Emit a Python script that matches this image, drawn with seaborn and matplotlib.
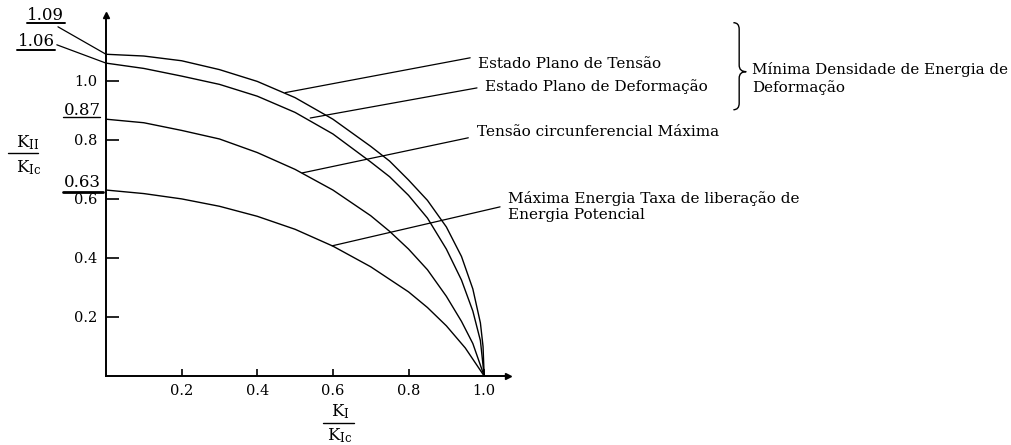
import numpy as np
import pandas as pd
import matplotlib
matplotlib.use("Agg")
import matplotlib.pyplot as plt
from matplotlib.path import Path
from matplotlib.patches import PathPatch
import seaborn as sns

# Critérios de fratura em modo misto: K_II/K_Ic em função de K_I/K_Ic
ki_tensao = [0.0, 0.1, 0.2, 0.3, 0.4, 0.5, 0.6, 0.7, 0.75, 0.8, 0.85, 0.9, 0.94, 0.97, 0.99, 0.997, 1.0]
kii_tensao = [1.09, 1.084, 1.068, 1.038, 0.998, 0.943, 0.87, 0.778, 0.728, 0.664, 0.595, 0.505, 0.405, 0.295, 0.18, 0.10, 0.0]

ki_deform = [0.0, 0.1, 0.2, 0.3, 0.4, 0.5, 0.6, 0.7, 0.75, 0.8, 0.85, 0.9, 0.94, 0.97, 0.99, 1.0]
kii_deform = [1.06, 1.042, 1.016, 0.988, 0.948, 0.893, 0.82, 0.725, 0.675, 0.612, 0.535, 0.43, 0.325, 0.22, 0.12, 0.0]

ki_circ = [0.0, 0.1, 0.2, 0.3, 0.4, 0.5, 0.6, 0.7, 0.75, 0.8, 0.85, 0.9, 0.94, 0.97, 1.0]
kii_circ = [0.87, 0.858, 0.832, 0.803, 0.757, 0.70, 0.63, 0.543, 0.49, 0.43, 0.36, 0.27, 0.185, 0.11, 0.0]

ki_energia = [0.0, 0.1, 0.2, 0.3, 0.4, 0.5, 0.6, 0.7, 0.8, 0.85, 0.9, 0.95, 1.0]
kii_energia = [0.63, 0.618, 0.600, 0.575, 0.541, 0.497, 0.440, 0.37, 0.285, 0.232, 0.17, 0.095, 0.0]

nomes = ["Estado Plano de Tensão", "Estado Plano de Deformação",
         "Tensão circunferencial Máxima",
         "Máxima Energia Taxa de liberação de\nEnergia Potencial"]
grupo_med = "Mínima Densidade de Energia de\nDeformação"
valores_k0 = [1.09, 1.06, 0.87, 0.63]
rotulos_k0 = ["1.09", "1.06", "0.87", "0.63"]
xticks = [0.2, 0.4, 0.6, 0.8, 1.0]
yticks = [0.2, 0.4, 0.6, 0.8, 1.0]

curvas = [(ki_tensao, kii_tensao), (ki_deform, kii_deform),
          (ki_circ, kii_circ), (ki_energia, kii_energia)]
df = pd.concat([pd.DataFrame({"KI": x, "KII": y, "criterio": n})
                for (x, y), n in zip(curvas, nomes)], ignore_index=True)

sns.set_style("ticks")
plt.rcParams["font.family"] = ["DejaVu Serif"]
plt.rcParams["mathtext.fontset"] = "dejavuserif"

W, H = 1011, 445
fig = plt.figure(figsize=(W / 100, H / 100), dpi=100)
x0px, x1px, y0px, y1px = 106, 508, 376, 15
ax = fig.add_axes([x0px / W, 1 - y0px / H, (x1px - x0px) / W, (y0px - y1px) / H])

sns.lineplot(data=df, x="KI", y="KII", units="criterio", estimator=None,
             sort=False, color="black", lw=1.0, ax=ax, legend=False)

ax.set_xlim(0, 1.063)
ax.set_ylim(0, 1.223)
for s in ("top", "right"):
    ax.spines[s].set_visible(False)
for s in ("left", "bottom"):
    ax.spines[s].set_linewidth(1.4)
    ax.spines[s].set_color("black")
ax.plot(1, 0, marker=">", color="k", ms=5, transform=ax.transAxes, clip_on=False)
ax.plot(0, 1, marker="^", color="k", ms=5, transform=ax.transAxes, clip_on=False)

ax.set_xticks(xticks)
ax.set_xticklabels([f"{v:.1f}" for v in xticks])
ax.set_yticks(yticks)
ax.set_yticklabels([f"{v:.1f}" for v in yticks])
ax.tick_params(axis="x", direction="in", length=5, width=1.2, pad=6, labelsize=10.5, colors="black")
ax.tick_params(axis="y", direction="in", length=9, width=1.2, pad=6, labelsize=10.5, colors="black")
ax.set_xlabel("")
ax.set_ylabel("")

txt = dict(color="black", clip_on=False)

# Rótulos dos valores em K_I = 0
v = valores_k0
ax.text(-0.159, v[0] + 0.13, rotulos_k0[0], ha="center", va="center", fontsize=12, **txt)
ax.plot([-0.209, -0.108], [v[0] + 0.107] * 2, color="k", lw=1.4, clip_on=False)
ax.plot([-0.127, 0], [v[0] + 0.093, v[0]], color="k", lw=0.9, clip_on=False)

ax.text(-0.185, v[1] + 0.072, rotulos_k0[1], ha="center", va="center", fontsize=12, **txt)
ax.plot([-0.235, -0.135], [v[1] + 0.045] * 2, color="k", lw=1.4, clip_on=False)
ax.plot([-0.130, 0], [v[1] + 0.062, v[1]], color="k", lw=0.9, clip_on=False)

ax.text(-0.063, v[2] + 0.03, rotulos_k0[2], ha="center", va="center", fontsize=12, **txt)
ax.plot([-0.114, -0.016], [v[2] + 0.008] * 2, color="k", lw=1.0, clip_on=False)

ax.text(-0.063, v[3] + 0.026, rotulos_k0[3], ha="center", va="center", fontsize=12, **txt)
ax.plot([-0.114, -0.008], [v[3] - 0.006] * 2, color="k", lw=2.0, clip_on=False)

# Linhas de chamada para os nomes dos critérios
chamadas = [
    ((0.474, 0.960), (0.963, 1.078), (0.984, 1.058)),
    ((0.540, 0.874), (0.981, 0.976), (1.003, 0.980)),
    ((0.519, 0.688), (0.958, 0.807), (0.981, 0.827)),
    ((0.598, 0.441), (1.042, 0.573), (1.063, 0.575)),
]
for nome, (p0, p1, pt) in zip(nomes, chamadas):
    ax.plot([p0[0], p1[0]], [p0[1], p1[1]], color="k", lw=0.9, clip_on=False)
    ax.text(pt[0], pt[1], nome, ha="left", va="center", fontsize=11,
            linespacing=1.15, **txt)

# Chave agrupando os dois critérios de densidade de energia
bx0, bx1 = 1.659, 1.693
btop, bmid, bbot = 1.197, 1.031, 0.902
bxm = bx0 + (bx1 - bx0) * 0.45
r = 0.022
verts = [(bx0, btop), (bxm, btop), (bxm, btop - r),
         (bxm, bmid + r), (bxm, bmid), (bx1, bmid),
         (bxm, bmid), (bxm, bmid - r),
         (bxm, bbot + r), (bxm, bbot), (bx0, bbot)]
codes = [Path.MOVETO, Path.CURVE3, Path.CURVE3,
         Path.LINETO, Path.CURVE3, Path.CURVE3,
         Path.CURVE3, Path.CURVE3,
         Path.LINETO, Path.CURVE3, Path.CURVE3]
ax.add_patch(PathPatch(Path(verts, codes), fill=False, lw=1.0, color="k", clip_on=False))
ax.text(1.709, 1.008, grupo_med, ha="left", va="center", fontsize=10.9, linespacing=1.25, **txt)

# Rótulos dos eixos em forma de fração
ax.text(-0.206, 0.79, r"$\mathrm{K}_{\mathrm{II}}$", ha="center", va="center", fontsize=12, **txt)
ax.plot([-0.259, -0.180], [0.756, 0.756], color="k", lw=1.0, clip_on=False)
ax.text(-0.206, 0.705, r"$\mathrm{K}_{\mathrm{Ic}}$", ha="center", va="center", fontsize=12, **txt)

ax.text(0.619, -0.122, r"$\mathrm{K}_{\mathrm{I}}$", ha="center", va="center", fontsize=12, **txt)
ax.plot([0.575, 0.655], [-0.159, -0.159], color="k", lw=1.0, clip_on=False)
ax.text(0.619, -0.203, r"$\mathrm{K}_{\mathrm{Ic}}$", ha="center", va="center", fontsize=12, **txt)

fig.savefig("out.png", dpi=100, facecolor="white")
